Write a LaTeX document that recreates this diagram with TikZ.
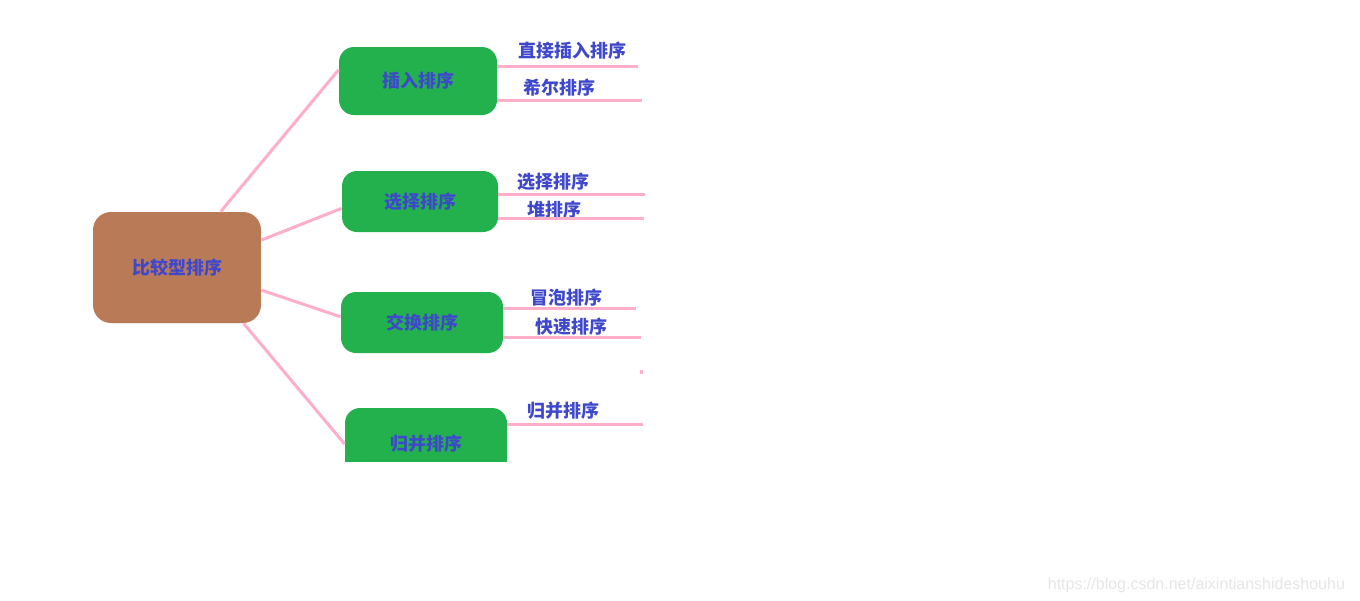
\documentclass[tikz,border=0pt]{standalone}
\usepackage{fontspec}
\usepackage{tikz}
\usetikzlibrary{calc}
\newfontfamily\cjk{Noto Sans CJK SC}
\setsansfont{Liberation Sans}
\definecolor{rootbrown}{HTML}{B97A57}
\definecolor{boxgreen}{HTML}{22B14C}
\definecolor{txtblue}{HTML}{3F48CC}
\definecolor{linkpink}{HTML}{FFAEC9}

\begin{document}
\begin{tikzpicture}[x=0.5pt,y=-0.5pt,
	rootbox/.style={fill=rootbrown,rounded corners=9pt,minimum width=84pt,minimum height=55.5pt,inner sep=0pt},
	sortbox/.style={fill=boxgreen,rounded corners=7.5pt,minimum height=30.5pt,inner sep=0pt},
	leaf/.style={inner sep=0pt},
	link/.style={draw=linkpink,line width=1.5pt},
	every node/.style={text=txtblue,font=\cjk\bfseries\fontsize{9}{11}\selectfont}]
	\useasboundingbox (0,0) rectangle (1360,600);
	\node [rootbox] (root) at (177,267.5) {比较型排序};
	\node [sortbox,minimum width=79pt,minimum height=34pt] (m1) at (418,81) {插入排序};
	\node [sortbox,minimum width=78pt] (m2) at (420,201.5) {选择排序};
	\node [sortbox,minimum width=81pt] (m3) at (422,322.5) {交换排序};
	\begin{scope}
		\clip (0,0) rectangle (1360,461);
		\node [sortbox,minimum width=81pt,minimum height=36pt] (m4) at (426,444) {归并排序};
	\end{scope}
	% links from the root
	\draw [link] (root.52) -- (m1.172);
	\draw [link] (root.18) -- (m2.185);
	\draw [link] (root.345) -- (m3.176);
	\draw [link] (root.320) -- (m4.west);
	% leaves
	\node [leaf] (t11) at (572,51) {直接插入排序};
	\node [leaf] (t12) at (559,88) {希尔排序};
	\node [leaf] (t21) at (553,182) {选择排序};
	\node [leaf] (t22) at (554,210) {堆排序};
	\node [leaf] (t31) at (566,298) {冒泡排序};
	\node [leaf] (t32) at (571,327) {快速排序};
	\node [leaf] (t41) at (563,411) {归并排序};
	\coordinate (e11) at (638,66);
	\coordinate (e12) at (642,100);
	\coordinate (e21) at (645,194);
	\coordinate (e22) at (644,218);
	\coordinate (e31) at (636,308);
	\coordinate (e32) at (641,337);
	\coordinate (e41) at (643,424);
	\draw [link] (m1.east |- e11) -- (e11);
	\draw [link] (m1.east |- e12) -- (e12);
	\draw [link] (m2.east |- e21) -- (e21);
	\draw [link] (m2.east |- e22) -- (e22);
	\draw [link] (m3.east |- e31) -- (e31);
	\draw [link] (m3.east |- e32) -- (e32);
	\draw [link] (m4.east |- e41) -- (e41);
	\fill [linkpink] (640,370) rectangle (643,374);
	\node [anchor=base east,text=black!10,font=\sffamily\fontsize{8}{9.6}\selectfont] (wm) at (1352,589) {https://blog.csdn.net/aixintianshideshouhu};
\end{tikzpicture}
\end{document}
